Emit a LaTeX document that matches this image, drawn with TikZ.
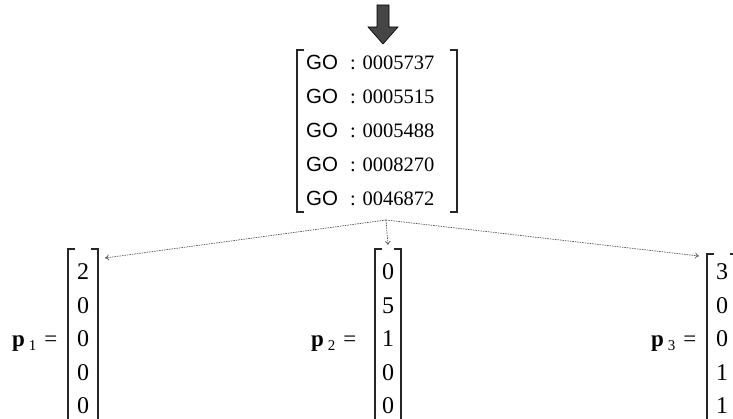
\documentclass[tikz,border=0pt]{standalone}
\usepackage{fontspec}
\setmainfont{Liberation Serif}
\setsansfont{Liberation Sans}
\usetikzlibrary{arrows.meta}
\newcommand\drawbrackets[1]{%
  \draw[bracket] ([shift={(7,0)}]#1.north west) -- (#1.north west) -- (#1.south west) -- ([shift={(7,0)}]#1.south west);
  \draw[bracket] ([shift={(-7,0)}]#1.north east) -- (#1.north east) -- (#1.south east) -- ([shift={(-7,0)}]#1.south east);}
\begin{document}
\begin{tikzpicture}[x=1pt,y=-1pt,
  bracket/.style={line width=1.7pt, black!85},
  matbox/.style={inner sep=0pt, outer sep=0pt, draw=none},
  entry/.style={font=\fontsize{24}{28}\selectfont, inner sep=0pt, anchor=base},
  goword/.style={font=\fontsize{20.5}{24}\selectfont\sffamily, inner sep=0pt, anchor=base west},
  gonum/.style={font=\fontsize{20.5}{24}\selectfont, inner sep=0pt, anchor=base west},
  plabel/.style={font=\fontsize{23}{26}\selectfont, inner sep=0pt, anchor=base west},
  link/.style={gray!70!black, line width=0.7pt, dash pattern=on 1.5pt off 1pt, -{To[length=4pt,width=6pt]}},
]
\useasboundingbox (0,0) rectangle (733,419);
\clip (0,0) rectangle (733,419);

% incoming block arrow
\draw[fill=gray!55!black, draw=black, line width=0.6pt]
  (377,5) -- (389,5) -- (389,27) -- (398,27) -- (383,44) -- (368,27) -- (377,27) -- cycle;

% GO term vector
\node[matbox, minimum width=160pt, minimum height=162pt] (go) at (377,131) {};
\drawbrackets{go}
\foreach \y/\t in {70/0005737, 104/0005515, 138/0005488, 172/0008270, 206/0046872} {
  \node[goword] at (306,\y) {GO};
  \node[gonum] at (350,\y) {: \t};
}

% profile vectors
\node[matbox, minimum width=30pt, minimum height=181pt] (p1) at (83,339.5) {};
\node[matbox, minimum width=26pt, minimum height=181pt] (p2) at (388,339.5) {};
\node[matbox, minimum width=30pt, minimum height=176pt] (p3) at (722,342) {};
\drawbrackets{p1}
\drawbrackets{p2}
\drawbrackets{p3}

\foreach \y/\a/\b/\c in {280/2/0/3, 313/0/5/0, 346/0/1/0, 380/0/0/1, 413/0/0/1} {
  \node[entry] at (83,\y) {\a};
  \node[entry] at (388,\y) {\b};
  \node[entry] at (722,\y) {\c};
}

\node[plabel] (l1) at (12,346) {\textbf{p}\,\raisebox{-4pt}{\fontsize{15}{15}\selectfont 1}\hspace{8pt}=};
\node[plabel] (l2) at (311,346) {\textbf{p}\,\raisebox{-4pt}{\fontsize{15}{15}\selectfont 2}\hspace{8pt}=};
\node[plabel] (l3) at (651,346) {\textbf{p}\,\raisebox{-4pt}{\fontsize{15}{15}\selectfont 3}\hspace{8pt}=};

% distribution of the GO terms onto the profiles
\coordinate (fork) at ([shift={(9,8)}]go.south);
\draw[link] (fork) -- ([shift={(7,9)}]p1.north east);
\draw[link] (fork) -- ([shift={(0,-4)}]p2.north);
\draw[link] (fork) -- ([shift={(-8,2)}]p3.north west);
\end{tikzpicture}
\end{document}
